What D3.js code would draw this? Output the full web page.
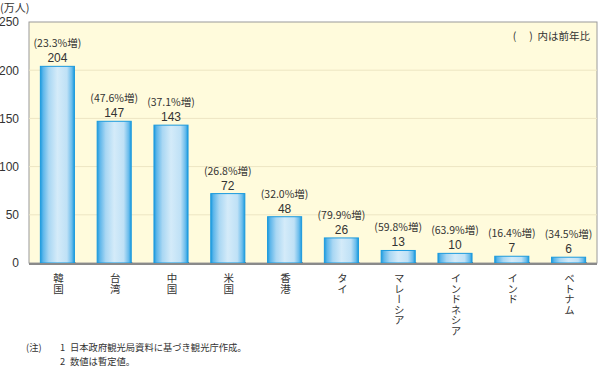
<!DOCTYPE html>
<html>
<head>
<meta charset="utf-8">
<script src="https://cdn.jsdelivr.net/npm/d3@7"></script>
<style>
  body { margin: 0; background: #fff; }
  text { font-family: "Noto Sans CJK JP", "Noto Sans", sans-serif; fill: #333; }
</style>
</head>
<body>
<div id="chart"></div>
<script>
// data
var categories = ["韓国", "台湾", "中国", "米国", "香港", "タイ", "マレーシア", "インドネシア", "インド", "ベトナム"];
var values = [204, 147, 143, 72, 48, 26, 13, 10, 7, 6];
var growth = ["23.3", "47.6", "37.1", "26.8", "32.0", "79.9", "59.8", "63.9", "16.4", "34.5"];
var yTicks = [0, 50, 100, 150, 200, 250];

var w = 600, h = 367;
var margin = { top: 22, right: 3, bottom: 104, left: 29 }; // plot box roughly 29..597 x 22..263
var width = w - margin.left - margin.right;
var height = h - margin.top - margin.bottom;

var svg = d3.select("#chart").append("svg")
    .attr("width", w)
    .attr("height", h);

var defs = svg.append("defs");
var grad = defs.append("linearGradient").attr("id", "barGrad")
    .attr("x1", "0%").attr("x2", "100%").attr("y1", "0%").attr("y2", "0%");
[["0%", "#1b9ade"], ["8%", "#5db6ea"], ["25%", "#a9d7f3"], ["50%", "#d4ebf9"], ["78%", "#bfe1f6"], ["92%", "#6cbdec"], ["100%", "#1b9ade"]]
    .forEach(s => grad.append("stop").attr("offset", s[0]).attr("stop-color", s[1]));

var g = svg.append("g").attr("transform", "translate(" + margin.left + "," + margin.top + ")");

var x = d3.scaleBand().domain(categories).range([0, width]).paddingInner(0.4).paddingOuter(0.2);
var y = d3.scaleLinear().domain([0, 250]).range([height, 0]);

// plot background
g.append("rect")
    .attr("width", width).attr("height", height)
    .attr("fill", "#fffbdc")
    .attr("stroke", "#9a9a9a").attr("stroke-width", 1);

// gridlines
g.append("g").selectAll("line")
    .data(yTicks.filter(d => d > 0 && d < 250))
    .enter().append("line")
    .attr("x1", 0).attr("x2", width)
    .attr("y1", d => y(d)).attr("y2", d => y(d))
    .attr("stroke", "#ede5c3").attr("stroke-width", 1);

// y axis labels
var yAxis = g.append("g").call(d3.axisLeft(y).tickValues(yTicks).tickSize(0).tickPadding(10));
yAxis.select(".domain").remove();
yAxis.selectAll("text").style("font-size", "12px").attr("fill", "#333")
    .style("font-family", "'Liberation Sans', sans-serif");

// bar shadows
g.append("g").selectAll("rect")
    .data(values).enter().append("rect")
    .attr("x", (d, i) => x(categories[i]) + 1)
    .attr("y", height - 1)
    .attr("width", x.bandwidth())
    .attr("height", 3)
    .attr("fill", "#6f6f6f");

// bars
g.append("g").selectAll("rect")
    .data(values).enter().append("rect")
    .attr("x", (d, i) => x(categories[i]))
    .attr("y", d => y(d))
    .attr("width", x.bandwidth())
    .attr("height", d => height - y(d))
    .attr("fill", "url(#barGrad)")
    .attr("stroke", "#1b9ade").attr("stroke-width", 1);

// x axis line
g.append("line")
    .attr("x1", 0).attr("x2", width)
    .attr("y1", height + 1).attr("y2", height + 1)
    .attr("stroke", "#8a8a8a").attr("stroke-width", 2);

// value labels
g.append("g").selectAll("text")
    .data(values).enter().append("text")
    .attr("x", (d, i) => x(categories[i]) + x.bandwidth() / 2)
    .attr("y", d => y(d) - 4)
    .attr("text-anchor", "middle")
    .style("font-family", "'Liberation Sans', sans-serif")
    .style("font-size", "12px")
    .text(d => d);

g.append("g").selectAll("text")
    .data(values).enter().append("text")
    .attr("x", (d, i) => x(categories[i]) + x.bandwidth() / 2)
    .attr("y", d => y(d) - 19)
    .attr("text-anchor", "middle")
    .style("font-size", "10.5px")
    .text((d, i) => "(" + growth[i] + "%増)");

// vertical category labels
g.append("g").selectAll("text")
    .data(categories).enter().append("text")
    .attr("x", d => x(d) + x.bandwidth() / 2 + 1)
    .attr("y", height + 10)
    .style("writing-mode", "vertical-rl")
    .style("font-size", "10.5px")
    .attr("fill", "#555")
    .text(d => d);

// unit label + legend note
svg.append("text").attr("x", 0).attr("y", 12).style("font-size", "11px").text("(万人)");
svg.append("text").attr("x", 590).attr("y", 40).attr("text-anchor", "end").style("font-size", "10.5px")
    .style("white-space", "pre").text("(　 )  内は前年比");

// footnote
var notes = [["(注)", "1", "日本政府観光局資料に基づき観光庁作成。"], ["", "2", "数値は暫定値。"]];
notes.forEach((n, i) => {
    var yy = 351 + i * 13.5;
    svg.append("text").attr("x", 26).attr("y", yy).style("font-size", "9.3px").text(n[0]);
    svg.append("text").attr("x", 60).attr("y", yy).style("font-size", "9.3px").text(n[1]);
    svg.append("text").attr("x", 70).attr("y", yy).style("font-size", "9.3px").text(n[2]);
});
</script>
</body>
</html>
